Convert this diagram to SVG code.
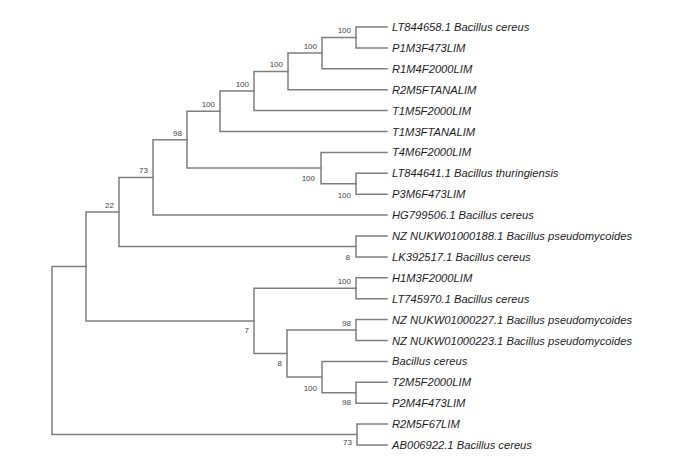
<svg xmlns="http://www.w3.org/2000/svg" width="698" height="458" viewBox="0 0 698 458">
<style>
.br{fill:none;stroke:#7f7f7f;stroke-width:1.5;stroke-linecap:square}
.tip{font-family:"Liberation Sans",Arial,sans-serif;font-style:italic;font-size:11.2px;fill:#1e1e1e}
.bs{font-family:"Liberation Sans",Arial,sans-serif;font-size:8px;fill:#444;text-anchor:end}
</style>
<rect width="698" height="458" fill="#ffffff"/>
<g id="connectors" class="br">
<path d="M356,27 V47.9 M356,27 H387 M356,47.9 H387"/>
<path d="M322,37.45 V68.8 M322,37.45 H356 M322,68.8 H387"/>
<path d="M288,53.1 V89.7 M288,53.1 H322 M288,89.7 H387"/>
<path d="M254,71.4 V110.6 M254,71.4 H288 M254,110.6 H387"/>
<path d="M220,91 V131.5 M220,91 H254 M220,131.5 H387"/>
<path d="M356,173.3 V194.2 M356,173.3 H387 M356,194.2 H387"/>
<path d="M321,152.4 V183.75 M321,152.4 H387 M321,183.75 H356"/>
<path d="M187,111.25 V168.1 M187,111.25 H220 M187,168.1 H321"/>
<path d="M153,139.7 V215.1 M153,139.7 H187 M153,215.1 H387"/>
<path d="M356,236 V256.9 M356,236 H387 M356,256.9 H387"/>
<path d="M119,177.4 V246.45 M119,177.4 H153 M119,246.45 H356"/>
<path d="M356,277.8 V298.7 M356,277.8 H387 M356,298.7 H387"/>
<path d="M356,319.6 V340.5 M356,319.6 H387 M356,340.5 H387"/>
<path d="M356,382.3 V403.2 M356,382.3 H387 M356,403.2 H387"/>
<path d="M322,361.4 V392.75 M322,361.4 H387 M322,392.75 H356"/>
<path d="M287,330.05 V377.1 M287,330.05 H356 M287,377.1 H322"/>
<path d="M254,288.25 V353.6 M254,288.25 H356 M254,353.6 H287"/>
<path d="M86,211.9 V320.9 M86,211.9 H119 M86,320.9 H254"/>
<path d="M357,424.1 V445 M357,424.1 H387 M357,445 H387"/>
<path d="M52,266.4 V434.55 M52,266.4 H86 M52,434.55 H357"/>
</g>
<g id="tips">
<text class="tip" x="392" y="31">LT844658.1 Bacillus cereus</text>
<text class="tip" x="392" y="51.9">P1M3F473LIM</text>
<text class="tip" x="392" y="72.8">R1M4F2000LIM</text>
<text class="tip" x="392" y="93.7">R2M5FTANALIM</text>
<text class="tip" x="392" y="114.6">T1M5F2000LIM</text>
<text class="tip" x="392" y="135.5">T1M3FTANALIM</text>
<text class="tip" x="392" y="156.4">T4M6F2000LIM</text>
<text class="tip" x="392" y="177.3">LT844641.1 Bacillus thuringiensis</text>
<text class="tip" x="392" y="198.2">P3M6F473LIM</text>
<text class="tip" x="392" y="219.1">HG799506.1 Bacillus cereus</text>
<text class="tip" x="392" y="240">NZ NUKW01000188.1 Bacillus pseudomycoides</text>
<text class="tip" x="392" y="260.9">LK392517.1 Bacillus cereus</text>
<text class="tip" x="392" y="281.8">H1M3F2000LIM</text>
<text class="tip" x="392" y="302.7">LT745970.1 Bacillus cereus</text>
<text class="tip" x="392" y="323.6">NZ NUKW01000227.1 Bacillus pseudomycoides</text>
<text class="tip" x="392" y="344.5">NZ NUKW01000223.1 Bacillus pseudomycoides</text>
<text class="tip" x="392" y="365.4">Bacillus cereus</text>
<text class="tip" x="392" y="386.3">T2M5F2000LIM</text>
<text class="tip" x="392" y="407.2">P2M4F473LIM</text>
<text class="tip" x="392" y="428.1">R2M5F67LIM</text>
<text class="tip" x="392" y="449">AB006922.1 Bacillus cereus</text>
</g>
<g id="bootstrap">
<text class="bs" x="351" y="33.4">100</text>
<text class="bs" x="317" y="49.1">100</text>
<text class="bs" x="283" y="67.4">100</text>
<text class="bs" x="249" y="87">100</text>
<text class="bs" x="215" y="107.2">100</text>
<text class="bs" x="182" y="135.7">98</text>
<text class="bs" x="148" y="173.4">73</text>
<text class="bs" x="114" y="207.9">22</text>
<text class="bs" x="351" y="197.5">100</text>
<text class="bs" x="315" y="180.6">100</text>
<text class="bs" x="350" y="259.5">8</text>
<text class="bs" x="351" y="284.2">100</text>
<text class="bs" x="351" y="326">98</text>
<text class="bs" x="249" y="333.4">7</text>
<text class="bs" x="282" y="366.1">8</text>
<text class="bs" x="317" y="390.6">100</text>
<text class="bs" x="351" y="404.7">98</text>
<text class="bs" x="352" y="444.5">73</text>
</g>
</svg>
